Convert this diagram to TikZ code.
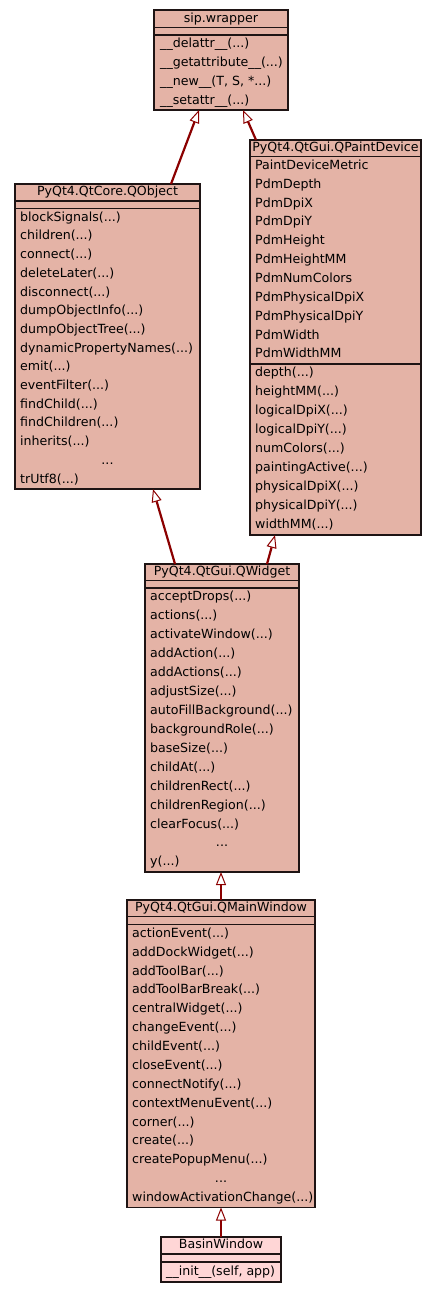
\documentclass[tikz,border=0pt]{standalone}
\usepackage{fontspec}
\setmainfont{DejaVu Sans}
\usetikzlibrary{arrows.meta,calc}
\definecolor{clsfill}{RGB}{228,179,166}
\definecolor{basinfill}{RGB}{255,214,214}
\definecolor{edgered}{RGB}{139,0,0}
\definecolor{boxline}{RGB}{30,20,20}
\newcommand\ddd{...}
\newcommand\ar{(\ddd)}
\tikzset{
  classbox/.style={draw=boxline, line width=1.3pt, inner sep=0pt, outer sep=0pt, anchor=north west},
  sepline/.style={draw=boxline, line width=1.3pt},
  rowtext/.style={anchor=west, inner sep=0pt, text height=9.4pt, text depth=2.6pt, font=\fontsize{12.6}{15}\selectfont},
  titletext/.style={anchor=center, inner sep=0pt, text height=9.4pt, text depth=2.6pt, font=\fontsize{12.6}{15}\selectfont},
  inherit/.style={draw=edgered, line width=2.2pt, -{Triangle[fill=white, length=13pt, width=10pt, line width=1pt]}}
}
\newcommand\umlclass[9]{%
  \node[classbox, fill=#2, minimum width={#4-#3}, minimum height={#8-#5}] (#1) at (#3,#5) {};
  \draw[sepline] (#3,#6) -- (#4,#6);
  \draw[sepline] (#3,#7) -- (#4,#7);
  \node[titletext] (#1-title) at ({(#3+#4)/2},{(#5+#6)/2}) {#9};
}
\newcommand\umlrows[4]{%
  \foreach \t [count=\i] in {#4} {
    \node[rowtext] at ({#1},{#2+(\i-0.5)*#3}) {\t};
  }%
}
\newcommand\umldots[4]{%
  \node[titletext] at ({#1},{#2+(#4-0.5)*#3}) {\ddd};
}
\begin{document}
\begin{tikzpicture}[x=1pt,y=-1pt]
\useasboundingbox (0,0) rectangle (437,1293);
% sip.wrapper
\umlclass{sip}{clsfill}{154}{288}{10}{27.5}{35}{110}{sip.wrapper}
\umlrows{160}{35}{18.75}{{\_\_delattr\_\_\ar},{\_\_getattribute\_\_\ar},{\_\_new\_\_(T, S, *\ddd)},{\_\_setattr\_\_\ar}}
% QObject
\umlclass{qobject}{clsfill}{15}{200}{184}{201}{208.5}{489}{PyQt4.QtCore.QObject}
\umlrows{20}{208.5}{18.7}{blockSignals\ar,children\ar,connect\ar,deleteLater\ar,disconnect\ar,dumpObjectInfo\ar,dumpObjectTree\ar,dynamicPropertyNames\ar,emit\ar,eventFilter\ar,findChild\ar,findChildren\ar,inherits\ar}
\umldots{107.5}{208.5}{18.7}{14}
\node[rowtext] at (20,{208.5+14.5*18.7}) {trUtf8\ar};
% QPaintDevice
\umlclass{qpd}{clsfill}{250}{421}{140}{156.5}{156.5}{535}{PyQt4.QtGui.QPaintDevice}
\draw[sepline] (250,364) -- (421,364);
\umlrows{255}{156.5}{18.86}{PaintDeviceMetric,PdmDepth,PdmDpiX,PdmDpiY,PdmHeight,PdmHeightMM,PdmNumColors,PdmPhysicalDpiX,PdmPhysicalDpiY,PdmWidth,PdmWidthMM}
\umlrows{255}{364}{19}{depth\ar,heightMM\ar,logicalDpiX\ar,logicalDpiY\ar,numColors\ar,paintingActive\ar,physicalDpiX\ar,physicalDpiY\ar,widthMM\ar}
% QWidget
\umlclass{qwidget}{clsfill}{145}{299}{564}{580.5}{588}{872}{PyQt4.QtGui.QWidget}
\umlrows{150}{588}{18.93}{acceptDrops\ar,actions\ar,activateWindow\ar,addAction\ar,addActions\ar,adjustSize\ar,autoFillBackground\ar,backgroundRole\ar,baseSize\ar,childAt\ar,childrenRect\ar,childrenRegion\ar,clearFocus\ar}
\umldots{222}{588}{18.93}{14}
\node[rowtext] at (150,{588+14.5*18.93}) {y\ar};
% QMainWindow
\umlclass{qmw}{clsfill}{127}{315}{900}{916.5}{924.5}{1207.5}{PyQt4.QtGui.QMainWindow}
\umlrows{132}{924.5}{18.87}{actionEvent\ar,addDockWidget\ar,addToolBar\ar,addToolBarBreak\ar,centralWidget\ar,changeEvent\ar,childEvent\ar,closeEvent\ar,connectNotify\ar,contextMenuEvent\ar,corner\ar,create\ar,createPopupMenu\ar}
\umldots{221}{924.5}{18.87}{14}
\node[rowtext] at (132,{924.5+14.5*18.87}) {windowActivationChange\ar};
% BasinWindow
\umlclass{basin}{basinfill}{161}{281}{1237}{1254}{1262}{1282}{BasinWindow}
\umlrows{166}{1262}{20}{{\_\_init\_\_(self, app)}}
% inheritance
\draw[inherit] ($(qobject.north west)+(156,0)$) -- ($(sip.south west)+(45,0)$);
\draw[inherit] ($(qpd.north west)+(6,0)$) -- ($(sip.south west)+(89,0)$);
\draw[inherit] ($(qwidget.north west)+(30,0)$) -- ($(qobject.south west)+(138,0)$);
\draw[inherit] ($(qwidget.north west)+(122,0)$) -- ($(qpd.south west)+(25,0)$);
\draw[inherit] ($(qmw.north west)+(94,0)$) -- ($(qwidget.south west)+(76,0)$);
\draw[inherit] ($(basin.north west)+(60,0)$) -- ($(qmw.south west)+(94,0)$);
\end{tikzpicture}
\end{document}
